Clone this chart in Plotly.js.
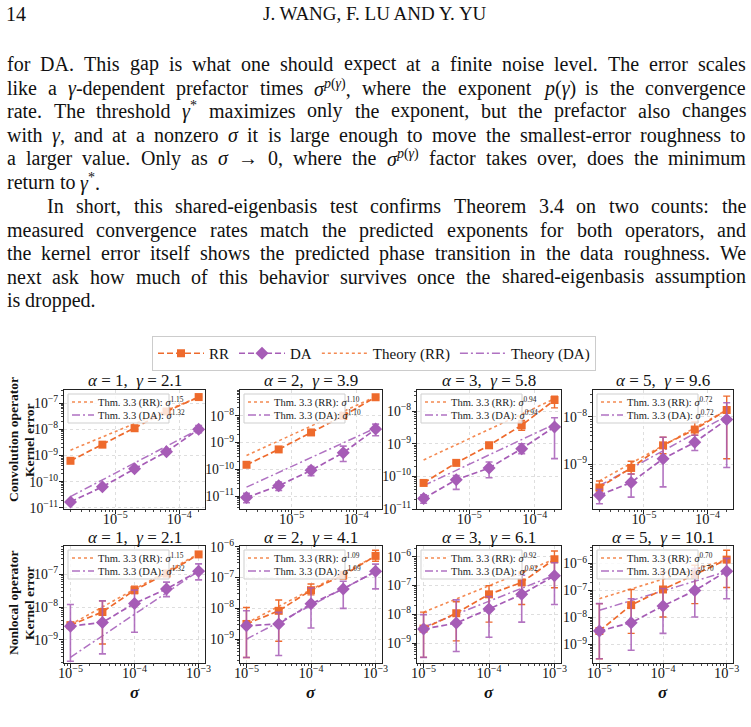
<!DOCTYPE html>
<html><head><meta charset="utf-8">
<script src="https://cdn.plot.ly/plotly-3.0.1.min.js"></script>
<style>html,body{margin:0;padding:0;background:#fff}#chart{width:751px;height:727px}</style>
</head><body><div id="chart"></div>
<script>
// ---------------- data ----------------
const sigmaConv = [2.0e-6, 6.3e-6, 2.0e-5, 6.3e-5, 2.0e-4];
const sigmaNonlocal = [1.0e-5, 3.16e-5, 1.0e-4, 3.16e-4, 1.0e-3];

const titleAlpha = ['1', '2', '3', '5', '1', '2', '3', '5'];
const titleGamma = ['2.1', '3.9', '5.8', '9.6', '2.1', '4.1', '6.1', '10.1'];
const expRR = ['1.15', '1.10', '0.94', '0.72', '1.15', '1.09', '0.92', '0.70'];
const expDA = ['1.32', '1.10', '0.94', '0.72', '1.32', '1.09', '0.92', '0.70'];

// Convolution operator, alpha = 1
const conv1RR = [6.3e-10, 2.6e-9, 1.1e-8, 4.8e-8, 1.7e-7];
const conv1RRlo = [null, null, null, null, null];
const conv1RRhi = [null, null, null, null, null];
const conv1DA = [1.7e-11, 6.4e-11, 3.1e-10, 1.4e-9, 1.0e-8];
const conv1DAlo = [null, null, null, null, 7.5e-9];
const conv1DAhi = [null, null, null, null, 1.4e-8];
const conv1ThRR = [1.6e-9, 1.7e-7];
const conv1ThDA = [2.7e-11, 1.0e-8];

// Convolution operator, alpha = 2
const conv2RR = [1.5e-10, 5.6e-10, 2.4e-9, 1.0e-8, 4.9e-8];
const conv2RRlo = [null, null, null, null, null];
const conv2RRhi = [null, null, null, null, null];
const conv2DA = [9.0e-12, 2.5e-11, 9.3e-11, 4.2e-10, 3.2e-9];
const conv2DAlo = [5.8e-12, 1.65e-11, 5.9e-11, 2.0e-10, 1.8e-9];
const conv2DAhi = [1.3e-11, 3.4e-11, 1.3e-10, 7.4e-10, 4.9e-9];
const conv2ThRR = [3.3e-10, 5.2e-8];
const conv2ThDA = [2.2e-11, 3.5e-9];

// Convolution operator, alpha = 3
const conv3RR = [6.3e-11, 2.6e-10, 9.0e-10, 3.7e-9, 2.2e-8];
const conv3RRlo = [null, null, 7.5e-10, 2.6e-9, 1.26e-8];
const conv3RRhi = [null, null, 1.1e-9, 5.2e-9, 2.9e-8];
const conv3DA = [2.1e-11, 7.9e-11, 1.8e-10, 7.1e-10, 3.3e-9];
const conv3DAlo = [1.5e-11, 4.0e-11, 9.1e-11, 5.0e-10, 3.5e-10];
const conv3DAhi = [2.75e-11, 1.07e-10, 2.75e-10, 1.0e-9, 6.3e-9];
const conv3ThRR = [3.2e-10, 2.4e-8];
const conv3ThDA = [5.2e-11, 4.0e-9];

// Convolution operator, alpha = 5
const conv4RR = [3.2e-10, 8.3e-10, 2.5e-9, 5.4e-9, 1.4e-8];
const conv4RRlo = [2.7e-10, 6.2e-10, 1.66e-9, 4.1e-9, 1.3e-9];
const conv4RRhi = [4.4e-10, 1.15e-9, 3.7e-9, 7.8e-9, 2.75e-8];
const conv4DA = [2.2e-10, 4.1e-10, 1.3e-9, 2.9e-9, 8.8e-9];
const conv4DAlo = [1.45e-10, 2.0e-10, 3.3e-10, 1.95e-9, 8.5e-10];
const conv4DAhi = [2.95e-10, 6.2e-10, 3.7e-9, 4.1e-9, 2.0e-8];
const conv4ThRR = [4.4e-10, 1.4e-8];
const conv4ThDA = [3.5e-10, 1.05e-8];

// Nonlocal operator, alpha = 1
const nl1RR = [2.8e-9, 7.1e-9, 3.3e-8, 1.07e-7, 4.1e-7];
const nl1RRlo = [null, 7.4e-10, 2.6e-8, 8.5e-8, null];
const nl1RRhi = [null, 1.55e-8, 4.4e-8, 1.3e-7, null];
const nl1DA = [2.6e-9, 3.4e-9, 1.3e-8, 3.6e-8, 1.26e-7];
const nl1DAlo = [2.2e-10, 3.7e-10, 1.7e-9, 2.1e-8, 6.8e-8];
const nl1DAhi = [1.2e-8, 1.55e-8, 3.3e-8, 5.8e-8, 2.1e-7];
const nl1ThRR = [2.9e-9, 4.3e-7];
const nl1ThDA = [2.9e-10, 1.26e-7];

// Nonlocal operator, alpha = 2
const nl2RR = [3.1e-9, 8.3e-9, 3.9e-8, 1.2e-7, 5.1e-7];
const nl2RRlo = [2.5e-10, 8.5e-10, 2.75e-8, 9.0e-8, 3.4e-7];
const nl2RRhi = [1.07e-8, 1.86e-8, 6.2e-8, 1.6e-7, 7.8e-7];
const nl2DA = [2.7e-9, 3.1e-9, 1.4e-8, 4.3e-8, 1.6e-7];
const nl2DAlo = [2.5e-10, 2.9e-10, 2.3e-9, 1.0e-8, 4.3e-8];
const nl2DAhi = [8.3e-9, 7.4e-9, 4.6e-8, 7.6e-8, 2.75e-7];
const nl2ThRR = [3.3e-9, 5.0e-7];
const nl2ThDA = [1.0e-9, 1.55e-7];

// Nonlocal operator, alpha = 3
const nl3RR = [3.2e-9, 1.1e-8, 5.0e-8, 1.3e-7, 8.3e-7];
const nl3RRlo = [3.2e-10, 1.2e-9, 5.4e-9, 2.2e-8, 8.5e-8];
const nl3RRhi = [1.2e-8, 2.75e-8, 1.0e-7, 3.0e-7, 1.6e-6];
const nl3DA = [3.1e-9, 5.0e-9, 1.55e-8, 5.0e-8, 2.2e-7];
const nl3DAlo = [3.2e-10, 5.1e-10, 1.6e-9, 5.4e-9, 2.2e-8];
const nl3DAhi = [9.8e-9, 3.2e-8, 4.2e-8, 2.3e-7, 6.3e-7];
const nl3ThRR = [1.2e-8, 8.3e-7];
const nl3ThDA = [3.6e-9, 2.3e-7];

// Nonlocal operator, alpha = 5
const nl4RR = [3.2e-9, 2.9e-8, 1.1e-7, 3.8e-7, 1.4e-6];
const nl4RRlo = [3.0e-10, 2.6e-9, 1.05e-8, 3.3e-8, 1.3e-7];
const nl4RRhi = [3.3e-8, 1.1e-7, 4.9e-7, 8.7e-7, 3.1e-6];
const nl4DA = [3.2e-9, 6.5e-9, 2.7e-8, 1.0e-7, 5.2e-7];
const nl4DAlo = [3.0e-10, 6.2e-10, 2.6e-9, 1.05e-8, 5.0e-8];
const nl4DAhi = [3.3e-8, 5.0e-8, 1.2e-7, 6.5e-7, 1.55e-6];
const nl4ThRR = [5.0e-8, 1.4e-6];
const nl4ThDA = [1.86e-8, 5.1e-7];

// page text
const headerPage = '14';
const headerAuthors = 'J. WANG, F. LU AND Y. YU';
const bodyText = [
  'for DA. This gap is what one should expect at a finite noise level. The error scales',
  'like a <i>γ</i>-dependent prefactor times <i>σ</i><sup><i>p</i>(<i>γ</i>)</sup>, where the exponent <i>p</i>(<i>γ</i>) is the convergence',
  'rate. The threshold <i>γ</i><sup>*</sup> maximizes only the exponent, but the prefactor also changes',
  'with <i>γ</i>, and at a nonzero <i>σ</i> it is large enough to move the smallest-error roughness to',
  'a larger value. Only as <i>σ</i> → 0, where the <i>σ</i><sup><i>p</i>(<i>γ</i>)</sup> factor takes over, does the minimum',
  'return to <i>γ</i><sup>*</sup>.',
  'In short, this shared-eigenbasis test confirms Theorem 3.4 on two counts: the',
  'measured convergence rates match the predicted exponents for both operators, and',
  'the kernel error itself shows the predicted phase transition in the data roughness. We',
  'next ask how much of this behavior survives once the shared-eigenbasis assumption',
  'is dropped.'
];
const bodyY = [64, 88, 111, 135, 158, 182, 206, 230, 253, 277, 300];
const bodyJustify = [true, true, true, true, true, false, true, true, true, true, false];
const bodyIndent = [0, 0, 0, 0, 0, 0, 40, 0, 0, 0, 0];
const rowLabels = [['Convolution operator', 'Kernel error'], ['Nonlocal operator', 'Kernel error']];

// ---------------- layout config ----------------
const W = 751, H = 727;
const PX = v => v / W;
const PY = v => 1 - v / H;
const colPx = [[64, 205], [240, 382], [417, 561], [593, 733]];
const rowPx = [[390, 509], [546, 663]];
const rowLabelY = [440, 603];
const xRanges = [[-5.8, -3.6], [-5.1, -2.9]];
const yRanges = [[-11.04, -6.5], [-11.47, -7.04], [-11.0, -7.35], [-9.95, -7.43],
                 [-9.71, -6.13], [-9.78, -5.97], [-9.69, -5.62], [-9.68, -5.35]];

const panels = [
  [conv1RR, conv1RRlo, conv1RRhi, conv1DA, conv1DAlo, conv1DAhi, conv1ThRR, conv1ThDA],
  [conv2RR, conv2RRlo, conv2RRhi, conv2DA, conv2DAlo, conv2DAhi, conv2ThRR, conv2ThDA],
  [conv3RR, conv3RRlo, conv3RRhi, conv3DA, conv3DAlo, conv3DAhi, conv3ThRR, conv3ThDA],
  [conv4RR, conv4RRlo, conv4RRhi, conv4DA, conv4DAlo, conv4DAhi, conv4ThRR, conv4ThDA],
  [nl1RR, nl1RRlo, nl1RRhi, nl1DA, nl1DAlo, nl1DAhi, nl1ThRR, nl1ThDA],
  [nl2RR, nl2RRlo, nl2RRhi, nl2DA, nl2DAlo, nl2DAhi, nl2ThRR, nl2ThDA],
  [nl3RR, nl3RRlo, nl3RRhi, nl3DA, nl3DAlo, nl3DAhi, nl3ThRR, nl3ThDA],
  [nl4RR, nl4RRlo, nl4RRhi, nl4DA, nl4DAlo, nl4DAhi, nl4ThRR, nl4ThDA]
];

const cRR = '#EE6A2C', cDA = '#A65CB6', cThRR = '#F48A52', cThDA = '#B072C2';
const SERIF = 'Liberation Serif, Times New Roman, serif';
const DASHDOT = '8px,3px,2px,3px';

function errHi(y, hi) { return hi.map((h, k) => h == null ? null : h - y[k]); }
function errLo(y, lo) { return lo.map((l, k) => l == null ? null : y[k] - l); }

const traces = [];
const layout = {
  width: W, height: H,
  margin: {l: 0, r: 0, t: 0, b: 0},
  paper_bgcolor: '#ffffff', plot_bgcolor: '#ffffff',
  font: {family: SERIF, color: '#111'},
  showlegend: true,
  legend: {
    orientation: 'h', x: PX(374), xanchor: 'center', y: PY(336), yanchor: 'top',
    bordercolor: '#cccccc', borderwidth: 1, bgcolor: '#ffffff', itemwidth: 46,
    font: {family: SERIF, size: 15, color: '#111'}, traceorder: 'normal'
  },
  annotations: [], shapes: []
};

panels.forEach((p, i) => {
  const row = i < 4 ? 0 : 1, col = i % 4;
  const sx = i === 0 ? '' : String(i + 1);
  const xs = row === 0 ? sigmaConv : sigmaNonlocal;
  const [rr, rrLo, rrHi, da, daLo, daHi, thRR, thDA] = p;
  const xa = 'x' + sx, ya = 'y' + sx;
  const first = i === 0;

  traces.push({
    x: [xs[0], xs[xs.length - 1]], y: thRR, xaxis: xa, yaxis: ya, mode: 'lines',
    name: 'Theory (RR)', showlegend: first, legendrank: 3,
    line: {color: cThRR, width: 1.6, dash: 'dot'}, hoverinfo: 'skip'
  });
  traces.push({
    x: [xs[0], xs[xs.length - 1]], y: thDA, xaxis: xa, yaxis: ya, mode: 'lines',
    name: 'Theory (DA)', showlegend: first, legendrank: 4,
    line: {color: cThDA, width: 1.5, dash: DASHDOT}, hoverinfo: 'skip'
  });
  traces.push({
    x: xs, y: rr, xaxis: xa, yaxis: ya, mode: 'lines+markers',
    name: 'RR', showlegend: first, legendrank: 1,
    line: {color: cRR, width: 1.7, dash: '6px,3px'},
    marker: {symbol: 'square', size: 8, color: cRR},
    error_y: {type: 'data', symmetric: false, array: errHi(rr, rrHi), arrayminus: errLo(rr, rrLo),
              color: cRR, thickness: 1.4, width: 3.5}
  });
  traces.push({
    x: xs, y: da, xaxis: xa, yaxis: ya, mode: 'lines+markers',
    name: 'DA', showlegend: first, legendrank: 2,
    line: {color: cDA, width: 1.7, dash: '6px,3px'},
    marker: {symbol: 'diamond', size: 10, color: cDA},
    error_y: {type: 'data', symmetric: false, array: errHi(da, daHi), arrayminus: errLo(da, daLo),
              color: 'rgba(166,92,182,0.85)', thickness: 1.6, width: 3.5}
  });

  const [x0, x1] = colPx[col], [y0, y1] = rowPx[row];
  const axCommon = {
    type: 'log', showline: true, mirror: true, linecolor: '#222', linewidth: 1.3,
    ticks: 'outside', ticklen: 3.5, tickcolor: '#222', dtick: 1, exponentformat: 'power',
    showgrid: true, gridcolor: '#dedede', griddash: 'dot', gridwidth: 1, zeroline: false,
    tickfont: {family: SERIF, size: 11, color: '#111'},
    minor: {ticks: 'outside', ticklen: 2, tickcolor: '#444', showgrid: false}
  };
  layout['xaxis' + sx] = Object.assign({}, axCommon, {
    domain: [PX(x0), PX(x1)], anchor: ya, range: xRanges[row], ticklabelstandoff: -6,
    tickfont: {family: SERIF, size: 11.5, color: '#111'}
  });
  layout['yaxis' + sx] = Object.assign({}, axCommon, {
    domain: [PY(y1), PY(y0)], anchor: xa, range: yRanges[i], ticklabelstandoff: -1
  });

  // panel title
  layout.annotations.push({
    xref: 'paper', yref: 'paper', x: PX((x0 + x1) / 2), y: PY(y0 - 9),
    xanchor: 'center', yanchor: 'middle', showarrow: false,
    text: '<i>α</i> = ' + titleAlpha[i] + ', &nbsp;<i>γ</i> = ' + titleGamma[i],
    font: {family: SERIF, size: 17, color: '#111'}
  });

  // inner legend box
  const bx = x0 + 4, by = y0 + 4, bw = 101, bh = 29;
  layout.shapes.push({
    type: 'rect', xref: 'paper', yref: 'paper', layer: 'above',
    x0: PX(bx), x1: PX(bx + bw), y0: PY(by), y1: PY(by + bh),
    line: {color: '#cfcfcf', width: 1}, fillcolor: 'rgba(255,255,255,0.8)'
  });
  const rowsL = [[by + 8, cThRR, 'dot', 'RR', expRR[i]], [by + 21, cThDA, DASHDOT, 'DA', expDA[i]]];
  rowsL.forEach(([yy, c, d, lab, ex]) => {
    layout.shapes.push({
      type: 'line', xref: 'paper', yref: 'paper', layer: 'above',
      x0: PX(bx + 4), x1: PX(bx + 26), y0: PY(yy), y1: PY(yy),
      line: {color: c, width: 1.5, dash: d}
    });
    layout.annotations.push({
      xref: 'paper', yref: 'paper', x: PX(bx + 28), y: PY(yy),
      xanchor: 'left', yanchor: 'middle', showarrow: false,
      text: 'Thm. 3.3 (' + lab + '): <i>σ</i><sup>' + ex + '</sup>',
      font: {family: SERIF, size: 10.5, color: '#222'}
    });
  });

  // x title on bottom row
  if (row === 1) {
    layout.annotations.push({
      xref: 'paper', yref: 'paper', x: PX((x0 + x1) / 2), y: PY(692),
      xanchor: 'center', yanchor: 'middle', showarrow: false,
      text: '<b><i>σ</i></b>', font: {family: SERIF, size: 17, color: '#111'}
    });
  }
});

// row labels (two separate rotated lines)
rowLabels.forEach((lines, r) => {
  [13, 29].forEach((xx, j) => {
    layout.annotations.push({
      xref: 'paper', yref: 'paper', x: PX(xx), y: PY(rowLabelY[r]), textangle: -90,
      xanchor: 'center', yanchor: 'middle', showarrow: false, borderpad: 0,
      text: '<b>' + lines[j] + '</b>',
      font: {family: SERIF, size: 13.5, color: '#111'}
    });
  });
});

// ----- page text, justified word by word -----
const BODY_SIZE = 20;
const bodyFont = {family: SERIF, size: BODY_SIZE, color: '#111'};
const cv = document.createElement('canvas').getContext('2d');
function measure(html, size) {
  let w = 0, it = false, sup = false, m;
  const re = /<(\/?)(i|sup)>|([^<]+)/g;
  while ((m = re.exec(html))) {
    if (m[2]) { const on = m[1] !== '/'; if (m[2] === 'i') it = on; else sup = on; }
    else {
      cv.font = (it ? 'italic ' : '') + (sup ? size * 0.7 : size) + 'px "Liberation Serif"';
      w += cv.measureText(m[3]).width;
    }
  }
  return w;
}
const LEFT = 6, RIGHT = 745;
cv.font = BODY_SIZE + 'px "Liberation Serif"';
const spaceW = cv.measureText(' ').width;
bodyText.forEach((line, k) => {
  const words = line.split(' ');
  const widths = words.map(w => measure(w, BODY_SIZE));
  const total = widths.reduce((a, b) => a + b, 0);
  const start = LEFT + bodyIndent[k];
  const gap = bodyJustify[k] ? (RIGHT - start - total) / (words.length - 1) : spaceW;
  let x = start;
  words.forEach((w, j) => {
    layout.annotations.push({xref: 'paper', yref: 'paper', x: PX(x), y: PY(bodyY[k]),
      xanchor: 'left', yanchor: 'middle', showarrow: false, text: w, font: bodyFont, borderpad: 0});
    x += widths[j] + gap;
  });
});
layout.annotations.push({xref: 'paper', yref: 'paper', x: PX(5), y: PY(14), xanchor: 'left', yanchor: 'middle',
  showarrow: false, text: headerPage, font: bodyFont, borderpad: 0});
layout.annotations.push({xref: 'paper', yref: 'paper', x: PX(375), y: PY(14), xanchor: 'center', yanchor: 'middle',
  showarrow: false, text: headerAuthors, font: {family: SERIF, size: 19, color: '#111'}});

Plotly.newPlot('chart', traces, layout, {staticPlot: true, displayModeBar: false});
</script></body></html>
